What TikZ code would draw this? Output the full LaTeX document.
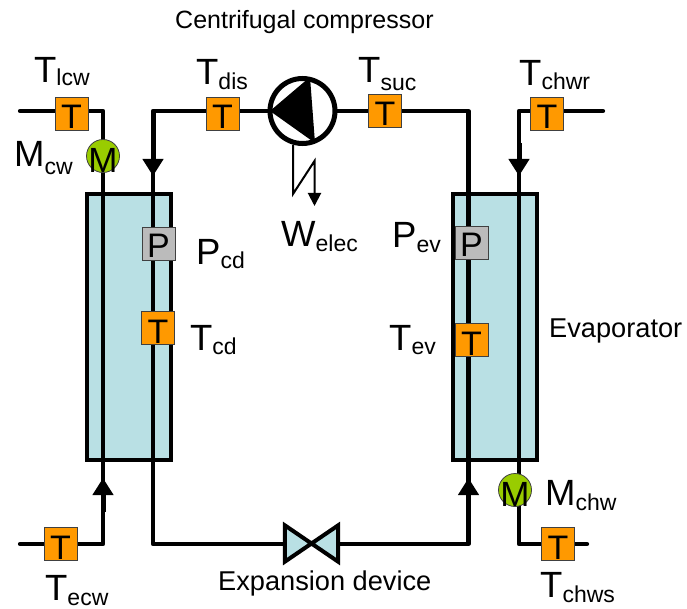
\documentclass[tikz,border=0pt]{standalone}
\usepackage{fontspec}
\setmainfont{Liberation Sans}
\usetikzlibrary{arrows.meta}
\pgfdeclarelayer{boxes}
\pgfdeclarelayer{pipes}
\pgfsetlayers{boxes,pipes,main}
\definecolor{sensorT}{HTML}{FF9900}
\definecolor{sensorP}{HTML}{BBBBBB}
\definecolor{sensorM}{HTML}{99CC00}
\definecolor{hx}{HTML}{B9E0E4}
\newcommand{\fsz}[1]{\fontsize{#1}{#1}\selectfont}
\newcommand{\lab}[3][5]{{\fsz{36.5}#2}\raisebox{-#1pt}{\fsz{23}#3}}
\tikzset{
  x=1pt,y=-1pt,
  sensorbase/.style={draw=black!75,line width=0.8pt,inner sep=0pt,minimum size=33pt,font=\fsz{34}},
  tsensor/.style={sensorbase,fill=sensorT,node contents={\raisebox{-15.5pt}[0pt][0pt]{T}}},
  psensor/.style={sensorbase,fill=sensorP,node contents={\raisebox{-14pt}[0pt][0pt]{P}}},
  msensor/.style={circle,draw=black!75,line width=0.8pt,fill=sensorM,inner sep=0pt,minimum size=33pt,font=\fsz{35},node contents={\raisebox{-16.5pt}[0pt][0pt]{M}}},
  hxbox/.style={draw=black,line width=4pt,fill=hx,inner sep=0pt,minimum width=#1,minimum height=266pt},
  pipe/.style={draw=black,line width=4.2pt,line join=round,line cap=round},
  flow/.style={draw=black,line width=5pt,-{Triangle[length=17pt,width=20pt]}},
  txt/.style={anchor=base west,inner sep=0pt,text=black},
  plain/.style={txt,font=\fsz{#1}}
}
\begin{document}
\begin{tikzpicture}
\useasboundingbox (0,0) rectangle (687,609);
% coordinates
\coordinate (lcwend) at (20,111);
\coordinate (lcwcorner) at (103,111);
\coordinate (ecwend) at (20,544);
\coordinate (ecwcorner) at (103,544);
\coordinate (ecwtip) at (103,478);
\coordinate (ecwstem) at (103,512);
\coordinate (discorner) at (153,111);
\coordinate (distip) at (153,176);
\coordinate (cdbottom) at (153,544);
\coordinate (evbottom) at (468.5,544);
\coordinate (evtip) at (468.5,478);
\coordinate (evstem) at (468.5,512);
\coordinate (succorner) at (468.5,111);
\coordinate (chwrend) at (603,111);
\coordinate (chwrcorner) at (519,111);
\coordinate (chwrstem) at (519,143);
\coordinate (chwrtip) at (519,176);
\coordinate (chwscorner) at (519,544);
\coordinate (chwsend) at (587,544);
\coordinate (elecA) at (293,145);
\coordinate (elecB) at (293,194);
\coordinate (elecC) at (314.5,161);
\coordinate (elecD) at (314.5,206);
% nodes
\begin{pgfonlayer}{boxes}
\node[hxbox=84pt] (cond) at (128.5,327) {};
\node[hxbox=84pt] (evap) at (494.5,327) {};
\end{pgfonlayer}
\node (tlcw) at (71.5,113.5) [tsensor];
\node (tdis) at (222.5,113.5) [tsensor];
\node (tsuc) at (385,110.5) [tsensor];
\node (tchwr) at (547,113.5) [tsensor];
\node (tecw) at (60.5,544) [tsensor];
\node (tchws) at (558,544) [tsensor];
\node (tcd) at (158,328) [tsensor];
\node (tev) at (471.5,340) [tsensor];
\node (pcd) at (158.5,243.5) [psensor];
\node (pev) at (471.5,243) [psensor];
\node (mcw) at (103,156) [msensor];
\node (mchw) at (515,490) [msensor];
\node[circle,draw=black,line width=5pt,fill=white,inner sep=0pt,minimum size=65pt] (comp) at (302.5,111) {};
\fill[black] (270,111) -- (310,77) -- (315,143) -- cycle;
\node[inner sep=0pt,minimum width=53pt,minimum height=36pt] (valve) at (311.5,543.5) {};
\draw[black,line width=4pt,fill=hx,line join=miter] (valve.north west) -- (valve.south east) -- (valve.north east) -- (valve.south west) -- cycle;
% connectors
\begin{pgfonlayer}{pipes}
\path[pipe] (lcwend) -- (lcwcorner) -- (ecwcorner) -- (ecwend);
\path[pipe] (comp.west) -- (discorner) -- (cdbottom) -- (valve.west |- cdbottom);
\path[pipe] (comp.east) -- (succorner) -- (evbottom) -- (valve.east |- evbottom);
\path[pipe] (chwrend) -- (chwrcorner) -- (chwscorner) -- (chwsend);
\draw[flow] (discorner) -- (distip);
\draw[flow] (chwrstem) -- (chwrtip);
\draw[flow] (ecwstem) -- (ecwtip);
\draw[flow] (evstem) -- (evtip);
\end{pgfonlayer}
\draw[black,line width=2pt,line join=miter,-{Triangle[length=13pt,width=13pt]}] (elecA) -- (elecB) -- (elecC) -- (elecD);
% labels
\node[plain=25] (t1) at (175,29) {Centrifugal compressor};
\node[plain=27.2] (t2) at (218,590) {Expansion device};
\node[plain=27.2] (t3) at (549,337) {Evaporator};
\node[txt] (l1) at (34,83) {\lab[3]{T}{lcw}};
\node[txt] (l2) at (196,85) {\lab{T}{dis}};
\node[txt] (l3) at (358,83) {\lab[8]{T}{suc}};
\node[txt] (l4) at (519,86) {\lab[4]{T}{chwr}};
\node[txt] (l5) at (14,167) {\lab[8]{M}{cw}};
\node[txt] (l6) at (196,265) {\lab[4]{P}{cd}};
\node[txt] (l7) at (281,247) {\lab[5]{W}{elec}};
\node[txt] (l8) at (392,248) {\lab[5]{P}{ev}};
\node[txt] (l9) at (190,350) {\lab[4]{T}{cd}};
\node[txt] (l10) at (389,350) {\lab[4]{T}{ev}};
\node[txt] (l11) at (45,600) {\lab[5]{T}{ecw}};
\node[txt] (l12) at (540,597) {\lab[5]{T}{chws}};
\node[txt] (l13) at (545,505) {\lab[5]{M}{chw}};
\end{tikzpicture}
\end{document}
